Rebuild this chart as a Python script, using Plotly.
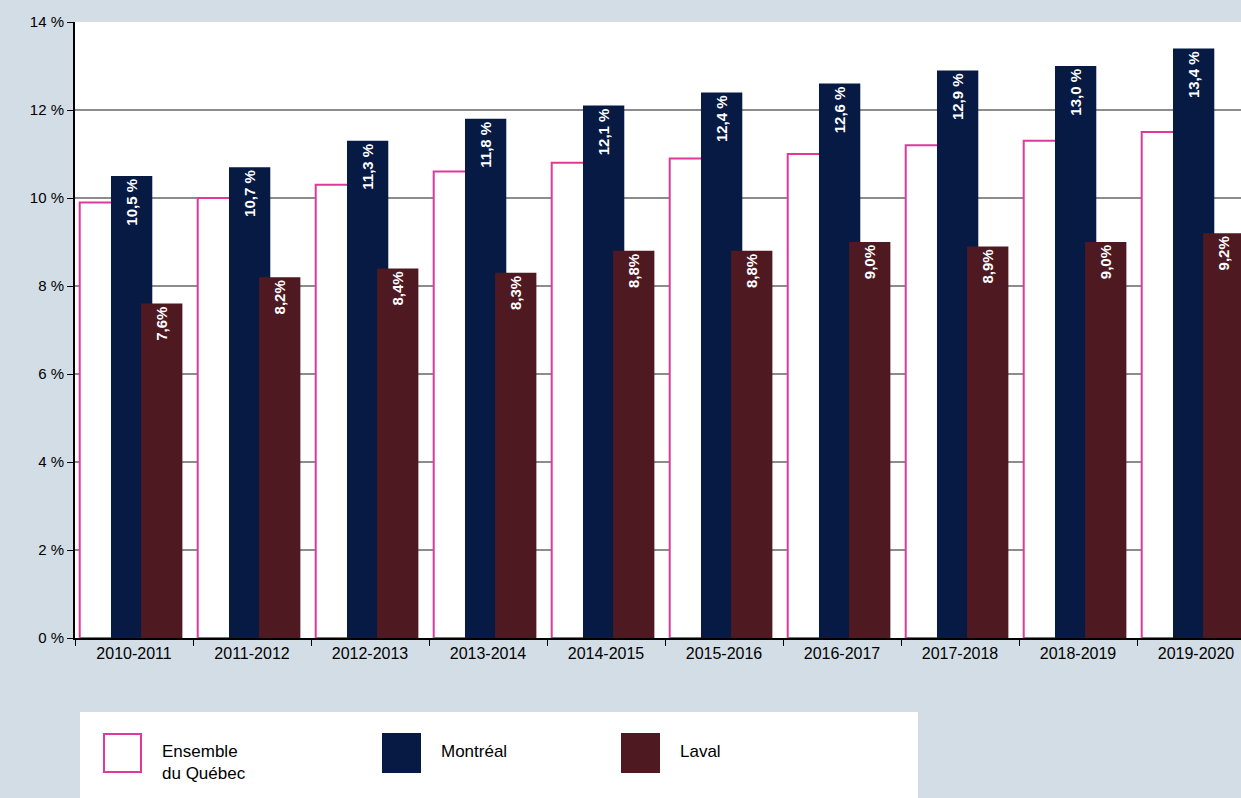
import plotly.graph_objects as go

years = ["2010-2011", "2011-2012", "2012-2013", "2013-2014", "2014-2015",
         "2015-2016", "2016-2017", "2017-2018", "2018-2019", "2019-2020"]
quebec = [9.9, 10.0, 10.3, 10.6, 10.8, 10.9, 11.0, 11.2, 11.3, 11.5]
montreal = [10.5, 10.7, 11.3, 11.8, 12.1, 12.4, 12.6, 12.9, 13.0, 13.4]
laval = [7.6, 8.2, 8.4, 8.3, 8.8, 8.8, 9.0, 8.9, 9.0, 9.2]

FONT = "Liberation Sans, Arial"
xs = list(range(len(years)))
W, H = 1241, 798
L, R, T, B = 75, 0, 22, 160
pw, ph = W - L - R, H - T - B

def px(x): return (x - L) / pw
def py(y): return (H - B - y) / ph

def fmt(v, space):
    return f"{v:.1f}".replace(".", ",") + (" %" if space else "%")

label_font = dict(color="white", size=15, family=FONT, weight="bold")

fig = go.Figure()
fig.add_trace(go.Bar(x=xs, y=quebec, offset=-0.46, width=0.35,
                     marker=dict(color="white", line=dict(color="#e0399a", width=2)),
                     hoverinfo="skip"))
fig.add_trace(go.Bar(x=xs, y=montreal, offset=-0.195, width=0.35,
                     marker=dict(color="#061a44", line=dict(width=0)),
                     text=[fmt(v, True) for v in montreal], textposition="inside",
                     textangle=-90, insidetextanchor="end", textfont=label_font))
fig.add_trace(go.Bar(x=xs, y=laval, offset=0.06, width=0.35,
                     marker=dict(color="#4f1922", line=dict(width=0)),
                     text=[fmt(v, False) for v in laval], textposition="inside",
                     textangle=-90, insidetextanchor="end", textfont=label_font,
                     constraintext="none"))

# legend box
shapes = [dict(type="rect", xref="paper", yref="paper", x0=px(80), x1=px(918),
               y0=py(712), y1=py(800), fillcolor="white", line=dict(width=0), layer="below")]
annotations = []
for x0, fill, edge, label in [(104, "white", "#e0399a", "Ensemble<br>du Québec"),
                              (383, "#061a44", "#061a44", "Montréal"),
                              (622, "#4f1922", "#4f1922", "Laval")]:
    shapes.append(dict(type="rect", xref="paper", yref="paper", x0=px(x0), x1=px(x0 + 37),
                       y0=py(772), y1=py(734), fillcolor=fill, line=dict(color=edge, width=2)))
    annotations.append(dict(xref="paper", yref="paper", x=px(x0 + 56), y=py(740),
                            text=label, showarrow=False, xanchor="left", yanchor="top",
                            align="left", font=dict(size=17, color="black", family=FONT)))

fig.update_layout(
    width=W, height=H, barmode="overlay", showlegend=False,
    margin=dict(l=L, r=R, t=T, b=B),
    paper_bgcolor="#d3dde6", plot_bgcolor="white",
    font=dict(family=FONT, size=15, color="black"),
    shapes=shapes, annotations=annotations,
    xaxis=dict(range=[-0.5, (W - L) / 118 - 0.5], tickvals=xs, ticktext=years,
               ticks="", showline=True, linecolor="black", linewidth=2, showgrid=False,
               zeroline=False, tickfont=dict(size=16),
               minor=dict(tickvals=[i - 0.5 for i in range(11)], ticks="outside",
                          ticklen=6, tickcolor="black", showgrid=False)),
    yaxis=dict(range=[0, 14], tickvals=list(range(0, 15, 2)),
               ticktext=[f"{v} %" for v in range(0, 15, 2)],
               ticks="outside", ticklen=6, tickcolor="black",
               showline=True, linecolor="black", linewidth=2,
               showgrid=True, gridcolor="#8c8c8c", gridwidth=2, zeroline=False),
)

fig.write_html("out.html", config={"displayModeBar": False},
               post_script="document.body.style.margin='0';document.body.style.overflow='hidden';")
